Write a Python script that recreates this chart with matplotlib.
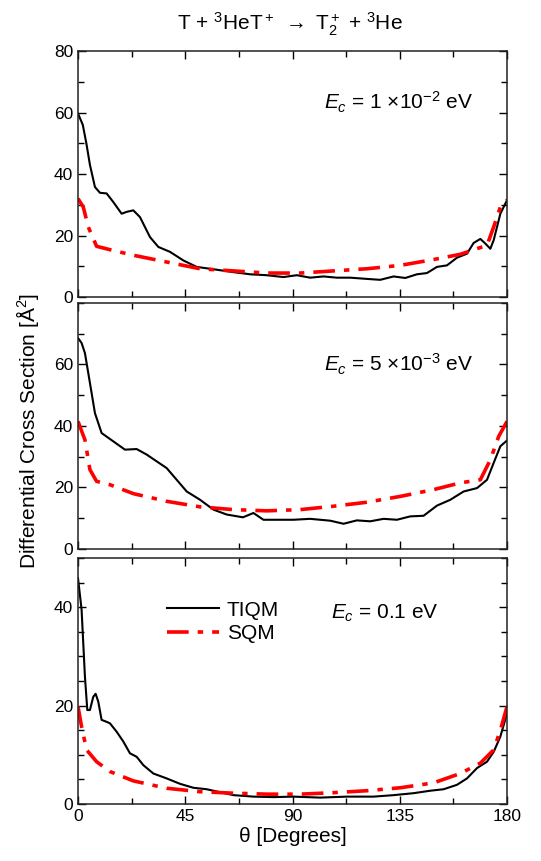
import numpy as np
import matplotlib.pyplot as plt
from matplotlib.ticker import MultipleLocator

plt.rcParams['font.family'] = ['Liberation Sans', 'DejaVu Sans']
plt.rcParams['mathtext.fontset'] = 'custom'
plt.rcParams['mathtext.rm'] = 'Liberation Sans'
plt.rcParams['mathtext.it'] = 'Liberation Sans:italic'

# panel 1: Ec = 1e-2 eV
tiqm1_x = [0, 2, 3.5, 5, 7.1, 9.2, 12, 14.8, 18.3, 20.4, 23.2, 26, 30.2, 33.7, 38.6, 44.2, 49.8, 55.4,
           65.2, 72.2, 79.2, 86.2, 91.8, 97.4, 103, 108.6, 114.2, 121.2, 126.8, 132.4, 137.3,
           142.2, 146.4, 150.6, 154.8, 159, 163.2, 166, 168.8, 170.9, 173, 174.4, 177.2, 180]
tiqm1_y = [59.7, 56, 50, 43, 35.8, 33.9, 33.7, 30.9, 27.1, 27.7, 28.2, 26, 19.5, 16.3, 14.7, 11.9, 9.8, 9.2,
           8.1, 7.4, 7.1, 6.5, 7.1, 6.3, 6.7, 6.3, 6.3, 5.9, 5.6, 6.7, 6.2,
           7.4, 7.8, 9.8, 10.3, 12.8, 14.1, 17.6, 18.9, 17.4, 15.7, 18.5, 27.1, 31.5]
sqm1_x = [0, 2.2, 4.3, 7.8, 13.4, 23.2, 37.2, 51.2, 65.2, 79.2, 93.2, 107.2, 121.2, 135.2, 149.2,
          160.4, 168.8, 171.6, 174.4, 177.2, 180]
sqm1_y = [32, 29.3, 22.8, 16.5, 15.4, 13.6, 11.4, 9.2, 8.5, 7.8, 7.8, 8.5, 9.2, 10.3, 12.2,
          13.9, 16.1, 16.8, 22.8, 29.3, 31.5]

# panel 2: Ec = 5e-3 eV
tiqm2_x = [0, 1.5, 2.9, 5, 7.1, 9.9, 14.8, 19.7, 24.6, 28.8, 33, 37.2, 41.4, 45.6, 51.2, 56.8, 62.4,
           69.2, 73.6, 77.8, 83.4, 90.4, 97.4, 105.8, 111.4, 117, 122.6, 128.2, 133.8, 139.4,
           145, 150.6, 156.2, 161.8, 167.4, 171.6, 174.4, 177.2, 180]
tiqm2_y = [68.6, 67, 63.7, 54, 44.2, 37.7, 35, 32.3, 32.5, 30.7, 28.5, 26.3, 22.5, 18.7, 16, 12.8, 11.2,
           10.3, 11.7, 9.5, 9.5, 9.5, 9.8, 9.2, 8.2, 9.3, 9, 9.8, 9.5, 10.6,
           10.8, 14.1, 16, 18.7, 19.8, 22.5, 28, 33.4, 35.3]
sqm2_x = [0, 2.9, 5, 7.8, 13.4, 23.2, 37.2, 51.2, 65.2, 79.2, 93.2, 107.2, 121.2, 135.2, 149.2,
          160.4, 168.8, 173, 176.5, 180]
sqm2_y = [41.5, 35.5, 25.8, 22, 20.9, 18, 15.5, 13.7, 12.8, 12.4, 12.8, 13.9, 15.2, 17.1, 19.3,
          21.5, 22.5, 29, 36.6, 41.5]

# panel 3: Ec = 0.1 eV
tiqm3_x = [0, 1.5, 2.9, 3.9, 5, 6.4, 7.4, 8.5, 9.9, 12, 13.4, 16.2, 19, 21.8, 24.6, 27.4, 31.6,
           37.2, 42.8, 48.4, 54, 59.6, 65.2, 73.6, 82, 90.4, 101.6, 112.8, 124, 132.4, 140.8,
           147.8, 153.4, 159, 163.2, 167.4, 171.6, 174.4, 177.2, 180]
tiqm3_y = [45.9, 39.5, 25.9, 19.1, 19.1, 21.8, 22.4, 20.8, 17.1, 16.7, 16.4, 14.7, 12.7, 10.3, 9.6,
           7.9, 6.2, 5.2, 4.1, 3.3, 3, 2.4, 1.8, 1.5, 1.4, 1.5, 1.3, 1.5, 1.5, 1.8, 2.2,
           2.7, 3, 3.9, 5.2, 7.3, 8.6, 10.6, 13.7, 18.4]
sqm3_x = [0, 1.5, 3.6, 7.8, 13.4, 23.2, 37.2, 51.2, 65.2, 79.2, 93.2, 107.2, 121.2, 135.2, 149.2,
          160.4, 168.8, 174.4, 177.2, 180]
sqm3_y = [19.8, 15.7, 11, 8.6, 6.6, 4.7, 3.2, 2.5, 2.2, 2, 2, 2.3, 2.7, 3.3, 4.3,
          6.2, 8.3, 11, 15, 19.8]

labels = [r'$E_c$ = 1 $\times$10$^{\mathrm{-}2}$ eV', r'$E_c$ = 5 $\times$10$^{\mathrm{-}3}$ eV',
          r'$E_c$ = 0.1 eV']
panels = [(tiqm1_x, tiqm1_y, sqm1_x, sqm1_y, 80, 10, [0, 20, 40, 60, 80]),
          (tiqm2_x, tiqm2_y, sqm2_x, sqm2_y, 80, 10, [0, 20, 40, 60]),
          (tiqm3_x, tiqm3_y, sqm3_x, sqm3_y, 50, 5, [0, 20, 40])]

fig = plt.figure(figsize=(5.41, 8.61), dpi=100)
bottoms = [0.655, 0.3624, 0.0662]
label_pos = [(0.92, 0.79), (0.92, 0.75), (0.84, 0.776)]

for i, (tx, ty, sx, sy, ymax, yminor, yt) in enumerate(panels):
    ax = fig.add_axes([0.1442, bottoms[i], 0.793, 0.2857])
    ax.plot(tx, ty, color='black', lw=1.5, label='TIQM')
    ax.plot(sx, sy, color='#ff0000', lw=2.6, ls=(0, (6, 2.5, 1.5, 2.5)), label='SQM')
    ax.set_xlim(0, 180)
    ax.set_ylim(0, ymax)
    ax.set_xticks([0, 45, 90, 135, 180])
    ax.xaxis.set_minor_locator(MultipleLocator(22.5))
    ax.set_yticks(yt)
    ax.yaxis.set_minor_locator(MultipleLocator(yminor))
    ax.tick_params(which='both', direction='in', top=True, right=True, labelsize=12.5)
    ax.tick_params(which='major', length=6, width=1)
    ax.tick_params(which='minor', length=4, width=1)
    for sp in ax.spines.values():
        sp.set_linewidth(1.1)
        sp.set_color('#222222')
    ax.text(label_pos[i][0], label_pos[i][1], labels[i], transform=ax.transAxes,
            ha='right', va='center', fontsize=15)
    if i < 2:
        ax.tick_params(labelbottom=False)
    else:
        ax.set_xlabel('θ [Degrees]', fontsize=15, labelpad=2)
        ax.legend(loc='upper left', bbox_to_anchor=(0.187, 0.86), frameon=False, fontsize=15,
                  handlelength=2.5, handletextpad=0.4, labelspacing=0.2, borderaxespad=0)

fig.text(0.535, 0.972, r'T + $^3$HeT$^+$ $\rightarrow$ T$_2^+$ + $^3$He', ha='center', va='center',
         fontsize=15)
fig.text(0.05, 0.5, r'Differential Cross Section [$\mathrm{\AA}^2$]', rotation=90,
         ha='center', va='center', fontsize=15)

fig.savefig('out.png', dpi=100)
